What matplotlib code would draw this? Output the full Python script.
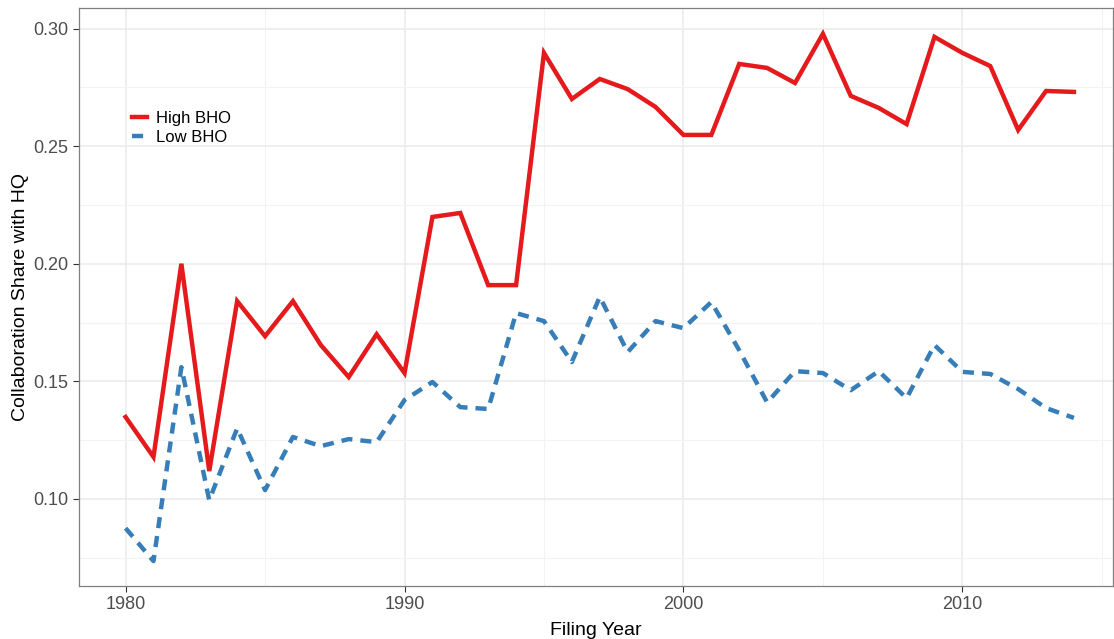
import matplotlib
matplotlib.use("Agg")
import matplotlib.pyplot as plt
from matplotlib.ticker import MultipleLocator

years = list(range(1980, 2015))
high_bho = [0.1348, 0.1178, 0.2000, 0.1118, 0.1841, 0.1692, 0.1841, 0.1654,
            0.1518, 0.1700, 0.1535, 0.2199, 0.2216, 0.1909, 0.1909, 0.2897,
            0.2701, 0.2786, 0.2743, 0.2667, 0.2548, 0.2548, 0.2850, 0.2833,
            0.2769, 0.2978, 0.2714, 0.2663, 0.2594, 0.2965, 0.2897, 0.2841,
            0.2569, 0.2735, 0.2731]
low_bho = [0.0875, 0.0735, 0.1560, 0.0994, 0.1300, 0.1037, 0.1263, 0.1224,
           0.1254, 0.1241, 0.1420, 0.1497, 0.1390, 0.1382, 0.1790, 0.1756,
           0.1582, 0.1859, 0.1624, 0.1756, 0.1726, 0.1837, 0.1632, 0.1410,
           0.1543, 0.1535, 0.1462, 0.1543, 0.1428, 0.1654, 0.1540, 0.1531,
           0.1467, 0.1386, 0.1344]

plt.rcParams['font.family'] = ['Liberation Sans', 'DejaVu Sans']

fig = plt.figure(figsize=(11.14, 6.39), dpi=100)
ax = fig.add_axes([79 / 1114, 53 / 639, 1034 / 1114, 578 / 639])

ax.plot(years, high_bho, color='#E41A1C', lw=3.2, label='High BHO',
        solid_joinstyle='miter')
ax.plot(years, low_bho, color='#377EB8', lw=3.2, label='Low BHO',
        dashes=(2.5, 1.8))

ax.set_xlim(1978.33, 2015.4)
ax.set_ylim(0.0629, 0.3088)
ax.xaxis.set_major_locator(MultipleLocator(10))
ax.xaxis.set_minor_locator(MultipleLocator(5))
ax.yaxis.set_major_locator(MultipleLocator(0.05))
ax.yaxis.set_minor_locator(MultipleLocator(0.025))
ax.yaxis.set_major_formatter(lambda v, p: f'{v:.2f}')

ax.grid(which='major', color='#EBEBEB', lw=1.1)
ax.grid(which='minor', color='#F3F3F3', lw=0.8)
ax.set_axisbelow(True)
ax.tick_params(which='minor', length=0)
ax.tick_params(which='major', length=4, color='#333333', labelsize=13,
               labelcolor='#4D4D4D', width=0.8)
for s in ax.spines.values():
    s.set_color('#7F7F7F')
    s.set_linewidth(0.9)

ax.set_xlabel('Filing Year', fontsize=14, color='black', labelpad=6)
ax.set_ylabel('Collaboration Share with HQ', fontsize=14, color='black',
              labelpad=3)

leg = ax.legend(loc='upper left', bbox_to_anchor=(0.045, 0.833), frameon=False,
                fontsize=12, handlelength=0.9, handletextpad=0.55,
                labelspacing=0.2, borderaxespad=0)

fig.savefig('out.png', dpi=100)
